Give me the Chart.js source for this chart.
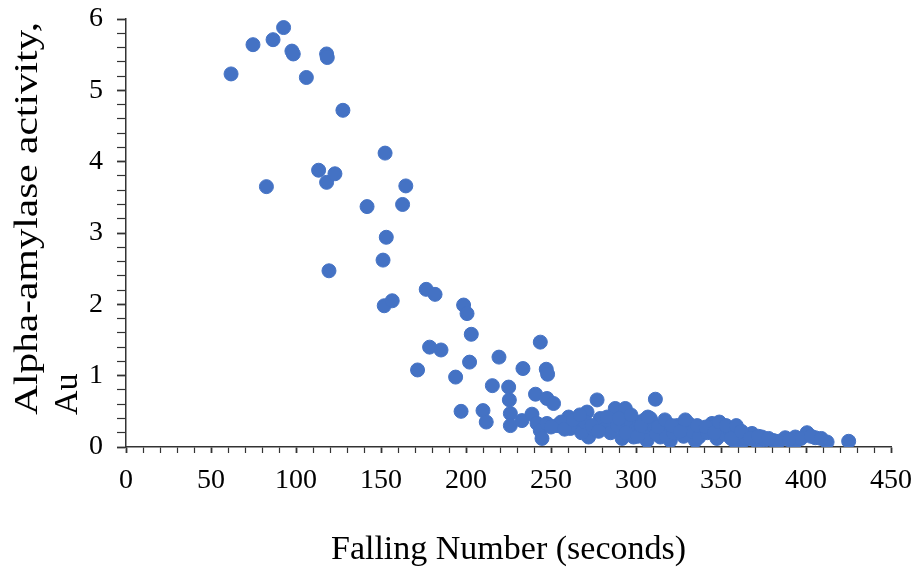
<!DOCTYPE html>
<html>
<head>
<meta charset="utf-8">
<script src="https://cdn.jsdelivr.net/npm/chart.js@4.4.1/dist/chart.umd.min.js"></script>
<style>
  body { margin: 0; background: #fff; }
  #wrap { width: 917px; height: 571px; }
</style>
</head>
<body>
<div id="wrap"><canvas id="graphCanvas" width="917" height="571"></canvas></div>
<script>
// Falling Number (seconds) and alpha-amylase activity (Au)
var fallingNumber = [
    61.8, 74.7, 86.5, 92.7, 97.6, 98.4, 106.1, 118.0, 118.4, 127.6,
    152.4, 113.3, 118.0, 122.9, 82.6, 164.6, 141.8, 162.7, 153.1, 151.2,
    119.4, 151.9, 156.6,
    176.6, 181.8, 198.6, 200.6, 203.1, 178.6, 185.3, 243.7, 202.1, 219.4,
    171.5, 233.5, 247.2, 248.0, 193.9, 215.5, 225.1, 225.5, 240.9, 247.6,
    251.5, 197.1, 210.0, 211.9, 226.1, 226.1, 232.9, 238.8, 241.8, 243.7,
    244.7, 247.6, 253.5,
    260.4, 261.4, 271.2, 277.1, 272.1, 279.0, 282.9, 287.8, 293.7, 291.8,
    295.6, 298.6, 304.5, 306.5, 308.4, 311.4, 314.3, 316.2, 320.2, 324.1,
    325.1, 330.9, 334.9, 339.8, 344.7, 347.6, 350.6, 358.4, 358.4, 363.3,
    368.2, 371.2, 374.1, 380.9, 387.8, 393.7, 393.1, 400.6, 405.5, 412.4,
    425.1,
    256, 265, 268, 275, 285, 289, 300, 302, 310, 312,
    318, 322, 328, 333, 337, 342, 345, 352, 355, 361,
    365, 376, 384, 397, 403, 309, 305, 270, 258, 250,
    263, 267, 274, 278, 283, 290, 294, 297, 301, 303,
    307, 313, 317, 321, 326, 329, 336, 341, 346, 349,
    353, 356, 359, 362, 367, 372, 378, 390, 409
];
var amylase = [
    5.23, 5.64, 5.71, 5.88, 5.55, 5.51, 5.18, 5.51, 5.46, 4.72,
    4.12, 3.88, 3.71, 3.83, 3.65, 3.66, 3.37, 3.40, 2.94, 2.62,
    2.47, 1.98, 2.05,
    2.21, 2.14, 1.99, 1.87, 1.58, 1.40, 1.36, 1.47, 1.19, 1.26,
    1.08, 1.10, 1.09, 1.02, 0.98, 0.86, 0.84, 0.66, 0.74, 0.68,
    0.61, 0.50, 0.51, 0.35, 0.47, 0.30, 0.37, 0.46, 0.33, 0.23,
    0.12, 0.33, 0.30,
    0.42, 0.26, 0.49, 0.66, 0.14, 0.40, 0.28, 0.54, 0.54, 0.12,
    0.33, 0.14, 0.23, 0.09, 0.40, 0.67, 0.14, 0.23, 0.09, 0.30,
    0.28, 0.33, 0.09, 0.23, 0.33, 0.12, 0.28, 0.23, 0.07, 0.09,
    0.19, 0.07, 0.14, 0.09, 0.13, 0.14, 0.05, 0.20, 0.13, 0.07,
    0.08,
    0.35, 0.30, 0.20, 0.25, 0.20, 0.30, 0.25, 0.35, 0.30, 0.18,
    0.15, 0.20, 0.15, 0.22, 0.14, 0.20, 0.28, 0.18, 0.25, 0.15,
    0.12, 0.10, 0.08, 0.12, 0.15, 0.36, 0.38, 0.35, 0.25, 0.28,
    0.38, 0.45, 0.30, 0.22, 0.42, 0.40, 0.20, 0.45, 0.15, 0.30,
    0.42, 0.28, 0.38, 0.30, 0.22, 0.38, 0.30, 0.28, 0.20, 0.35,
    0.30, 0.12, 0.30, 0.22, 0.12, 0.15, 0.12, 0.10, 0.12
];

var xTitle = 'Falling Number (seconds)';
var yTitleLines = ['Alpha-amylase activity,', 'Au'];
var xMajorStep = 50;  // labelled x ticks
var yMajorStep = 1;   // labelled y ticks

var serif = '"Liberation Serif", "Times New Roman", serif';
var axisColor = '#333333';

var points = [];
for (var i in fallingNumber) {
    points.push({x: fallingNumber[i], y: amylase[i]});
}

function isMajor(v, step) {
    var q = v / step;
    return Math.abs(q - Math.round(q)) < 1e-6;
}

// y title: two lines, rotated, left aligned from the bottom;
// first line runs almost the full height of the axis in the original
var yTitlePlugin = {
    id: 'yTitle',
    afterDraw: function (chart) {
        var ctx = chart.ctx;
        ctx.save();
        ctx.font = '34px ' + serif;
        ctx.fillStyle = '#000';
        ctx.textAlign = 'left';
        ctx.textBaseline = 'alphabetic';
        ctx.translate(37, 415);
        ctx.rotate(-Math.PI / 2);
        ctx.save();
        var w = ctx.measureText(yTitleLines[0]).width;
        ctx.scale(393 / w, 1);
        ctx.fillText(yTitleLines[0], 0, 0);
        ctx.restore();
        ctx.fillText(yTitleLines[1], 0, 40);
        ctx.restore();
    }
};

var graphTarget = document.getElementById('graphCanvas');

new Chart(graphTarget, {
    type: 'scatter',
    data: {
        datasets: [{
            label: 'Alpha-amylase',
            data: points,
            backgroundColor: '#4472C4',
            borderColor: '#4472C4',
            borderWidth: 1,
            pointRadius: 7,
            pointHoverRadius: 7
        }]
    },
    options: {
        responsive: false,
        animation: false,
        events: [],
        layout: { padding: { left: 0, right: 26, top: 19, bottom: 0 } },
        plugins: {
            legend: { display: false },
            tooltip: { enabled: false }
        },
        scales: {
            x: {
                type: 'linear',
                min: 0,
                max: 450,
                afterFit: function (scale) {
                    scale.height = 124;
                    scale.paddingLeft = 0;
                    scale.paddingRight = 0;
                },
                border: { display: true, color: axisColor, width: 1.5 },
                grid: {
                    drawOnChartArea: false,
                    tickLength: 6,
                    tickColor: axisColor,
                    tickWidth: function (c) { return isMajor(c.tick.value, xMajorStep) ? 1.8 : 1.2; }
                },
                ticks: {
                    stepSize: 10,
                    autoSkip: false,
                    maxRotation: 0,
                    padding: 11,
                    color: '#000',
                    font: { family: serif, size: 28 },
                    callback: function (v) { return isMajor(v, xMajorStep) ? Math.round(v) : ''; }
                },
                title: {
                    display: true,
                    text: xTitle,
                    color: '#000',
                    font: { family: serif, size: 34 },
                    padding: { top: 0, bottom: 1 }
                }
            },
            y: {
                type: 'linear',
                min: 0,
                max: 6,
                afterFit: function (scale) {
                    scale.width = 126;
                    scale.paddingTop = 0;
                    scale.paddingBottom = 0;
                },
                border: { display: true, color: axisColor, width: 1.5 },
                grid: {
                    drawOnChartArea: false,
                    tickLength: 9,
                    tickColor: axisColor,
                    tickWidth: function (c) { return isMajor(c.tick.value, yMajorStep) ? 1.8 : 1.2; }
                },
                ticks: {
                    stepSize: 0.2,
                    autoSkip: false,
                    padding: 14,
                    color: '#000',
                    font: { family: serif, size: 28 },
                    callback: function (v) { return isMajor(v, yMajorStep) ? Math.round(v) : ''; }
                }
            }
        }
    },
    plugins: [yTitlePlugin]
});
</script>
</body>
</html>
